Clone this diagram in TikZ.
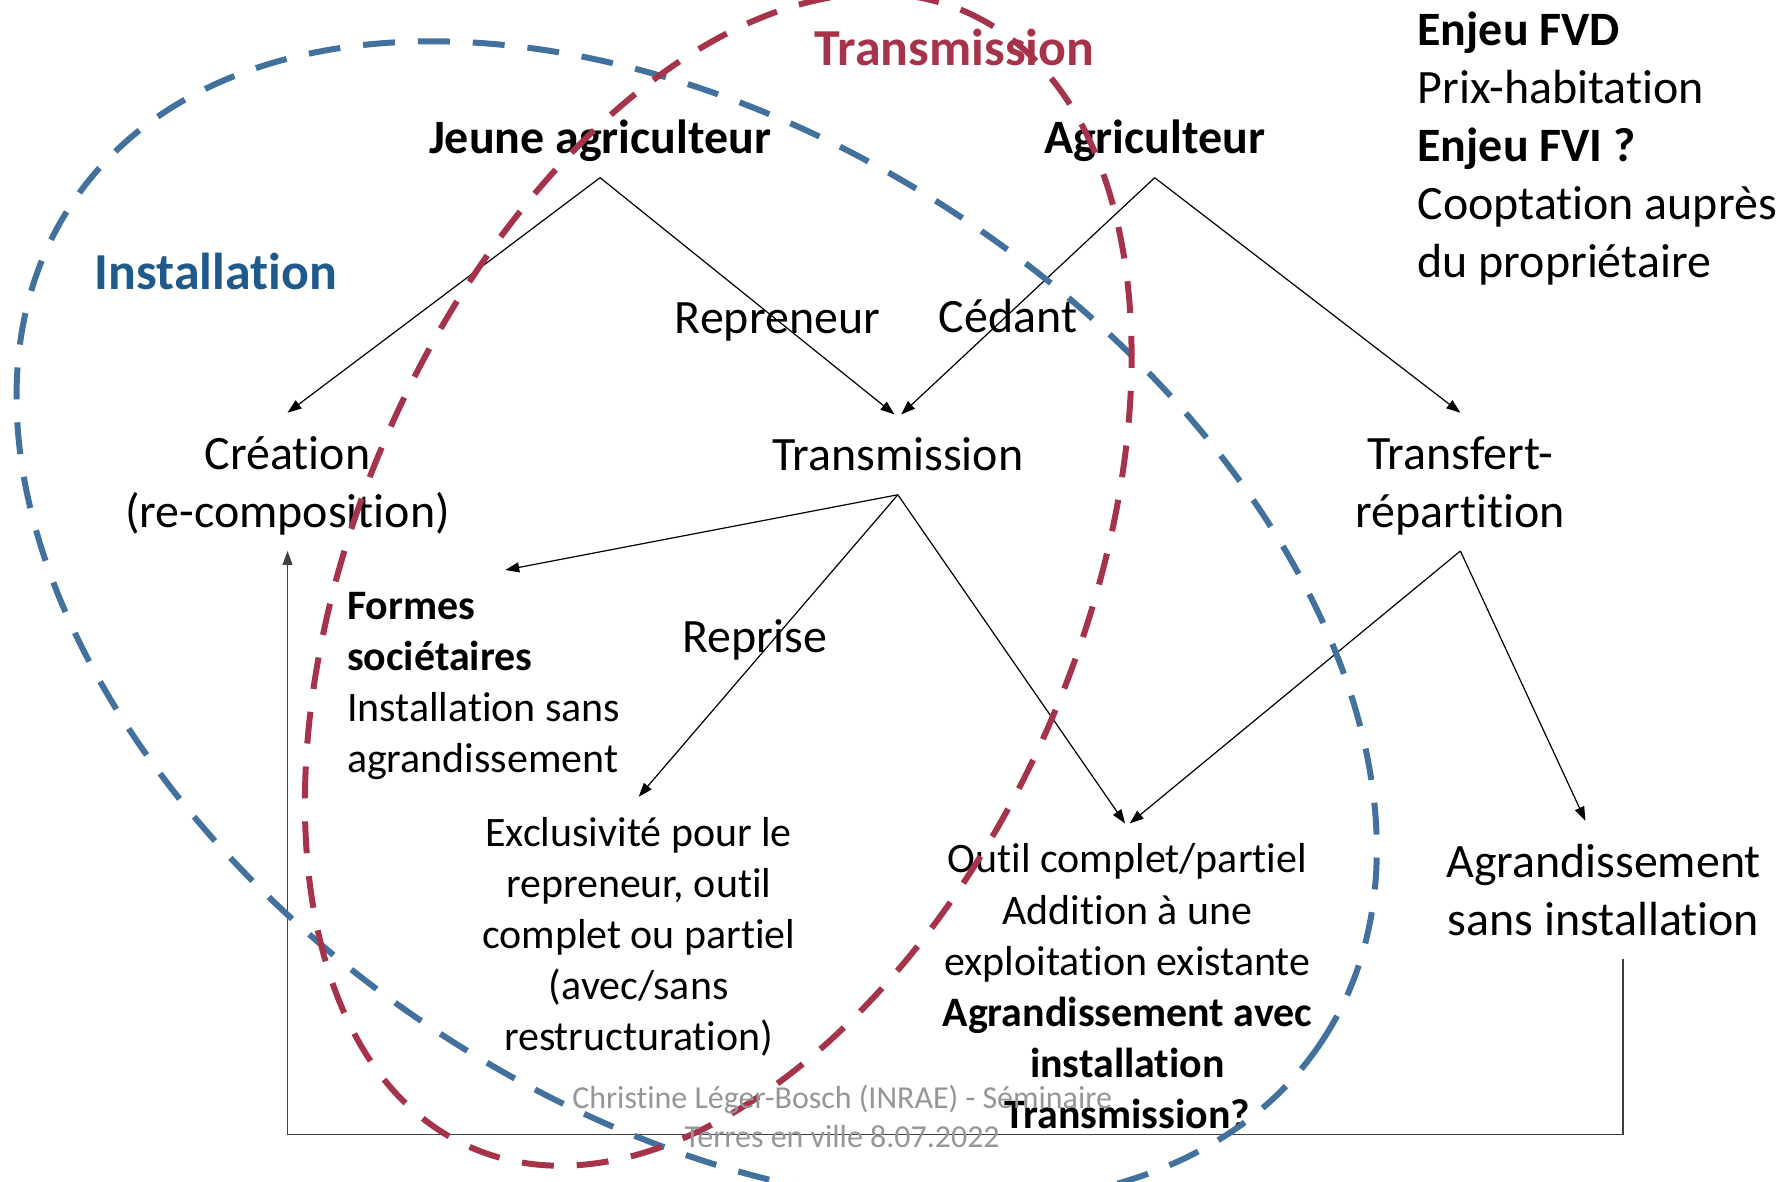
\documentclass[tikz,border=0pt]{standalone}
\usepackage{fontspec}
\setmainfont{Carlito}[Ligatures=NoCommon]
\usetikzlibrary{arrows.meta}

\definecolor{instblue}{RGB}{65,113,156}
\definecolor{insttext}{RGB}{31,90,140}
\definecolor{transred}{RGB}{165,52,75}
\definecolor{footgray}{RGB}{150,150,150}

\newcommand{\bigtxt}{\fontsize{24}{29}\selectfont}
\newcommand{\smltxt}{\fontsize{21}{25.6}\selectfont}
\newcommand{\headtxt}{\fontsize{26}{31}\selectfont\bfseries}
\newcommand{\foottxt}{\fontsize{16}{19.3}\selectfont}
\newcommand{\topstrut}{\rule{0pt}{1.17em}}
\newcommand{\botstrut}{\rule[-0.49em]{0pt}{0.49em}}

\tikzstyle{diag}=[x=0.02cm, y=-0.02cm]
\tikzstyle{txtbox}=[inner sep=0pt, align=center, font=\bigtxt, execute at begin node=\topstrut, execute at end node=\botstrut]
\tikzstyle{smlbox}=[txtbox, font=\smltxt]
\tikzstyle{arr}=[line width=0.6pt, -{Triangle[length=7pt,width=5pt]}]
\tikzstyle{zone}=[line width=3pt, dash pattern=on 16pt off 11.5pt]

\begin{document}
\begin{tikzpicture}[style=diag]
\useasboundingbox (0,0) rectangle (1568,1040);
\clip (0,0) rectangle (1568,1040);
\fill[white] (0,0) rectangle (1568,1040);

\node[inner sep=0pt, font=\headtxt, text=insttext] (insthead) at (190,239) {Installation};
\node[inner sep=0pt, font=\headtxt, text=transred] (transhead) at (840,42) {Transmission};

\node[txtbox, font=\bigtxt\bfseries] (jeune) at (528,121) {Jeune agriculteur};
\node[txtbox, font=\bigtxt\bfseries] (agri) at (1016,121) {Agriculteur};
\node[txtbox] (repreneur) at (684,279) {Repreneur};
\node[txtbox] (cedant) at (887,278) {Cédant};
\node[txtbox] (creation) at (253,424) {\topstrut Création\\(re-composition)};
\node[txtbox] (trans) at (790,400) {Transmission};
\node[txtbox] (transf) at (1285,424) {\topstrut Transfert-\\répartition};
\node[txtbox] (reprise) at (664,560) {Reprise};
\node[smlbox, align=left, anchor=west] (formes) at (305,600) {\topstrut\textbf{Formes}\\\textbf{sociétaires}\\Installation sans\\agrandissement};
\node[smlbox] (excl) at (562,822) {\topstrut Exclusivité pour le\\repreneur, outil\\complet ou partiel\\(avec/sans\\restructuration)};
\node[smlbox] (outil) at (992,868) {\topstrut Outil complet/partiel\\Addition à une\\exploitation existante\\\textbf{Agrandissement avec}\\\textbf{installation}\\\textbf{Transmission?}};
\node[txtbox] (agrand) at (1411,783) {\topstrut Agrandissement\\sans installation};
\node[txtbox, align=left, anchor=west] (enjeux) at (1247,128) {\topstrut\textbf{Enjeu FVD}\\Prix-habitation\\\textbf{Enjeu FVI ?}\\Cooptation auprès\\du propriétaire};

\draw[arr] (jeune.south) -- (creation.north);
\draw[arr] (jeune.south) -- ([xshift=-0.06cm]trans.north);
\draw[arr] (agri.south) -- ([xshift=0.06cm]trans.north);
\draw[arr] (agri.south) -- (transf.north);
\draw[arr] (trans.south) -- ([xshift=0.38cm]formes.north);
\draw[arr] (trans.south) -- (excl.north);
\draw[arr] (trans.south) -- ([xshift=-0.04cm]outil.north);
\draw[arr] (transf.south) -- ([xshift=0.04cm]outil.north);
\draw[arr] (transf.south) -- ([xshift=-0.32cm]agrand.north);
\coordinate (loop) at (253,998);
\draw[arr, black!75] ([xshift=0.34cm]agrand.south) |- (loop) -- (creation.south);

\draw[zone, instblue, rotate around={-34:(613,548)}] (613,548) ellipse [x radius=662, y radius=426];
\draw[zone, transred, rotate around={66.5:(632,510)}] (632,510) ellipse [x radius=545, y radius=318];

\node[txtbox, font=\foottxt, text=footgray] (footer) at (741,983) {\topstrut Christine Léger-Bosch (INRAE) - Séminaire\\Terres en ville 8.07.2022};
\end{tikzpicture}
\end{document}
